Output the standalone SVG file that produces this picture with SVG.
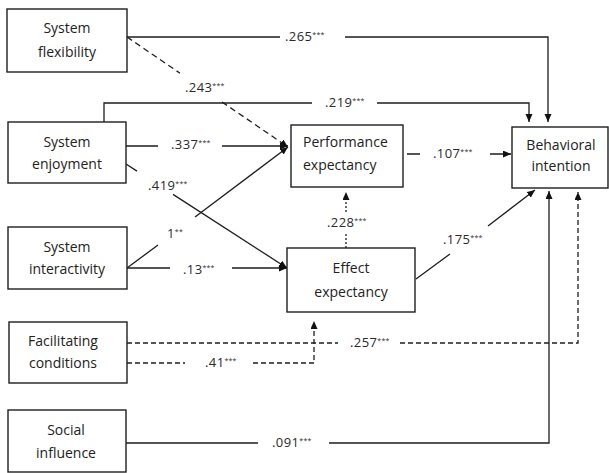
<svg xmlns="http://www.w3.org/2000/svg" width="609" height="473" viewBox="0 0 609 473">
<style>
.box{fill:#fff;stroke:#1e1e1e;stroke-width:1.4}
.nt{font-family:"Open Sans","Noto Sans",sans-serif;font-size:14px;fill:#222;text-anchor:middle}
.ln{fill:none;stroke:#1e1e1e;stroke-width:1.3}
.da{stroke-dasharray:5,3}
.db{stroke-dasharray:6,4}
.dt{stroke-dasharray:2,2}
.lb{font-family:"Open Sans","Noto Sans",sans-serif;font-size:13px;fill:#2a2a2a;letter-spacing:0.4px}
.s{font-size:7px;letter-spacing:0.2px}
</style>
<defs>
<marker id="arr" markerUnits="userSpaceOnUse" markerWidth="9" markerHeight="8" refX="8" refY="3.5" orient="auto">
<path d="M0,0 L8,3.5 L0,7 z" fill="#111"/>
</marker>
</defs>
<rect width="609" height="473" fill="#fff"/>
<g id="connectors">
<path class="ln" d="M127,37 H280 M345,37 H548 V122" marker-end="url(#arr)"/>
<path class="ln" d="M104,122 V103 H312 M377,103 H529 V122" marker-end="url(#arr)"/>
<path class="ln db" d="M127,37 L180,73.2 M222,102 L288,147" marker-end="url(#arr)"/>
<path class="ln" d="M126,146 H158 M222,146 H288" marker-end="url(#arr)"/>
<path class="ln" d="M126,164 L137,171.1 M173,194.4 L287,268" marker-end="url(#arr)"/>
<path class="ln" d="M127,268 L158,245 M195,217 L288,147" marker-end="url(#arr)"/>
<path class="ln" d="M127,268 H170 M232,268 H287" marker-end="url(#arr)"/>
<path class="ln" d="M407,154 H420 M490,154 H511" marker-end="url(#arr)"/>
<path class="ln dt" d="M346,248 V233 M346,212 V192" marker-end="url(#arr)"/>
<path class="ln" d="M416,279 L450,254 M488,226 L535,190" marker-end="url(#arr)"/>
<path class="ln da" d="M127,343 H338 M400,343 H578 V192" marker-end="url(#arr)"/>
<path class="ln da" d="M127,363 H185 M253,363 H314 V321" marker-end="url(#arr)"/>
<path class="ln" d="M126,443 H258 M329,443 H549 V191" marker-end="url(#arr)"/>
<text class="lb" x="285" y="41">.265<tspan class="s" dy="-4">***</tspan></text>
<text class="lb" x="325" y="107">.219<tspan class="s" dy="-4">***</tspan></text>
<text class="lb" x="185" y="92">.243<tspan class="s" dy="-4">***</tspan></text>
<text class="lb" x="171" y="149">.337<tspan class="s" dy="-4">***</tspan></text>
<text class="lb" x="148" y="190">.419<tspan class="s" dy="-4">***</tspan></text>
<text class="lb" x="167" y="238">1<tspan class="s" dy="-4">**</tspan></text>
<text class="lb" x="183" y="274">.13<tspan class="s" dy="-4">***</tspan></text>
<text class="lb" x="433" y="158">.107<tspan class="s" dy="-4">***</tspan></text>
<text class="lb" x="327" y="227">.228<tspan class="s" dy="-4">***</tspan></text>
<text class="lb" x="443" y="244">.175<tspan class="s" dy="-4">***</tspan></text>
<text class="lb" x="350" y="347">.257<tspan class="s" dy="-4">***</tspan></text>
<text class="lb" x="205" y="367">.41<tspan class="s" dy="-4">***</tspan></text>
<text class="lb" x="272" y="447">.091<tspan class="s" dy="-4">***</tspan></text>
</g>
<g id="system-flexibility">
<rect class="box" x="7" y="9" width="120" height="63"/>
<text class="nt" x="67" y="33">System</text>
<text class="nt" x="67" y="57">flexibility</text>
</g>
<g id="system-enjoyment">
<rect class="box" x="8" y="122" width="118" height="61"/>
<text class="nt" x="67" y="147">System</text>
<text class="nt" x="67" y="169">enjoyment</text>
</g>
<g id="system-interactivity">
<rect class="box" x="8" y="227" width="119" height="62"/>
<text class="nt" x="67" y="252">System</text>
<text class="nt" x="67" y="274">interactivity</text>
</g>
<g id="facilitating-conditions">
<rect class="box" x="9" y="322" width="118" height="61"/>
<text class="nt" x="63" y="346">Facilitating</text>
<text class="nt" x="63" y="368">conditions</text>
</g>
<g id="social-influence">
<rect class="box" x="8" y="410" width="118" height="62"/>
<text class="nt" x="66" y="435">Social</text>
<text class="nt" x="66" y="458">influence</text>
</g>
<g id="performance-expectancy">
<rect class="box" x="291" y="125" width="112" height="62"/>
<text class="nt" x="303" y="147" style="text-anchor:start">Performance</text>
<text class="nt" x="303" y="170" style="text-anchor:start">expectancy</text>
</g>
<g id="effect-expectancy">
<rect class="box" x="287" y="248" width="128" height="64"/>
<text class="nt" x="351" y="273">Effect</text>
<text class="nt" x="351" y="297">expectancy</text>
</g>
<g id="behavioral-intention">
<rect class="box" x="512" y="127" width="96" height="61"/>
<text class="nt" x="561" y="150">Behavioral</text>
<text class="nt" x="561" y="171">intention</text>
</g>
</svg>
